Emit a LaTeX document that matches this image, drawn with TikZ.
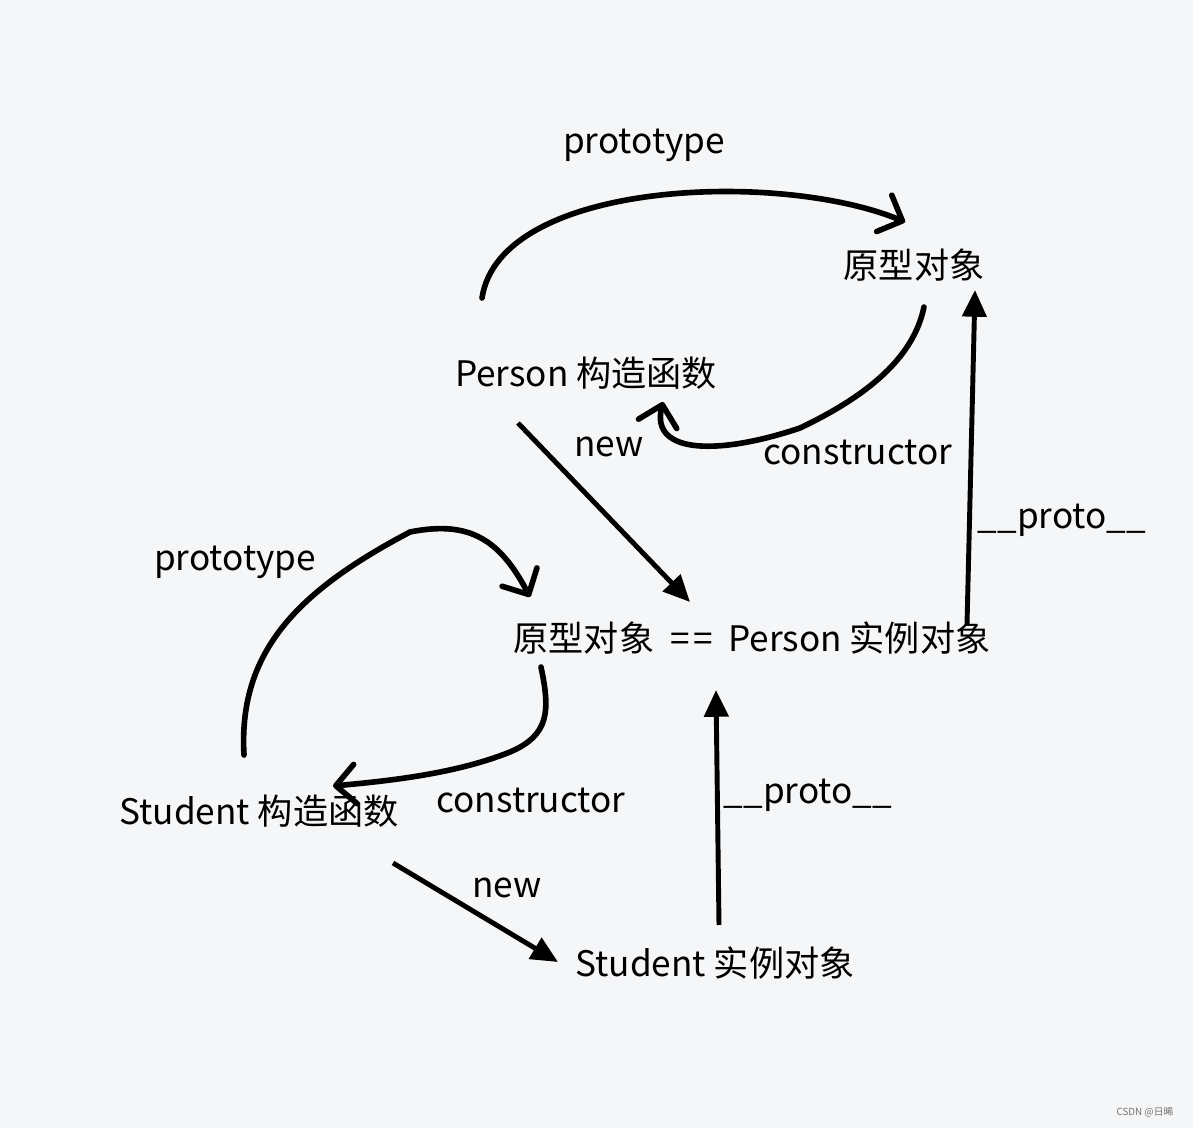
\documentclass[tikz,border=0pt]{standalone}
\usepackage{fontspec}
\setmainfont{Noto Sans CJK SC}
\usetikzlibrary{arrows.meta}
\definecolor{fond}{RGB}{245,246,248}
\tikzset{txt/.style={font=\fontsize{25}{30}\selectfont,inner sep=0pt},hand/.style={line width=4pt,line cap=round,-{Straight Barb[length=14pt,width=28pt,line cap=round,line join=round]}},flux/.style={line width=3.5pt,-{Triangle[length=19pt,width=17pt]}}}

\begin{document}
\begin{tikzpicture}[x=0.025cm,y=-0.025cm]
\fill[fond] (0,0) rectangle (1193,1128);
\useasboundingbox (0,0) rectangle (1193,1128);
% noeuds
\node[txt] (proto) at (914,265) {原型对象};
\node[txt] (pctor) at (586,373) {Person 构造函数};
\node[txt] (pinst) at (752,638) {原型对象\hspace{0.45em}=\hspace{0.1em}=\hspace{0.45em}Person 实例对象};
\node[txt] (sctor) at (259,811) {Student 构造函数};
\node[txt] (sinst) at (715,963) {Student 实例对象};
% etiquettes
\node[txt] (lprotoA) at (644,145) {prototype};
\node[txt] (lnewA) at (609,447) {new};
\node[txt] (lconsA) at (858,452) {constructor};
\node[txt] (lupA) at (1062,520) {\_\_proto\_\_};
\node[txt] (lprotoB) at (235,562) {prototype};
\node[txt] (lconsB) at (531,800) {constructor};
\node[txt] (lupB) at (808,795) {\_\_proto\_\_};
\node[txt] (lnewB) at (507,888) {new};
\node[font=\fontsize{7}{8}\selectfont,text=black!55,inner sep=0pt] (mark) at (1145,1112) {CSDN @日晞};
% fleches a main levee
\draw[hand] ([shift={(-104,-75)}]pctor.center) .. controls +(18,-118) and +(-125,-52) .. ([shift={(-9,-43)}]proto.center);
\draw[hand] ([shift={(10,42)}]proto.center) .. controls +(-9,43) and +(80,-38) .. (800,428) .. controls (720,455) and (650,455) .. ([shift={(77,29)}]pctor.center);
\draw[hand] ([shift={(-15,-56)}]sctor.center) .. controls +(-6,-105) and +(-110,58) .. (410,532) .. controls (470,520) and (500,540) .. ([shift={(-222,-41)}]pinst.center);
\draw[hand] ([shift={(-211,29)}]pinst.center) .. controls +(9,43) and +(40,-17) .. (510,752) .. controls (460,772) and (400,780) .. ([shift={(74,-25)}]sctor.center);
% fleches droites
\draw[flux] ([shift={(-68,50)}]pctor.center) -- ([shift={(-62,-36)}]pinst.center);
\draw[flux] ([shift={(215,-13)}]pinst.center) -- ([shift={(61,25)}]proto.center);
\draw[flux] ([shift={(4,-38)}]sinst.center) -- ([shift={(-36,52)}]pinst.center);
\draw[flux] ([shift={(134,52)}]sctor.center) -- ([shift={(-157,-1)}]sinst.center);
\end{tikzpicture}
\end{document}
